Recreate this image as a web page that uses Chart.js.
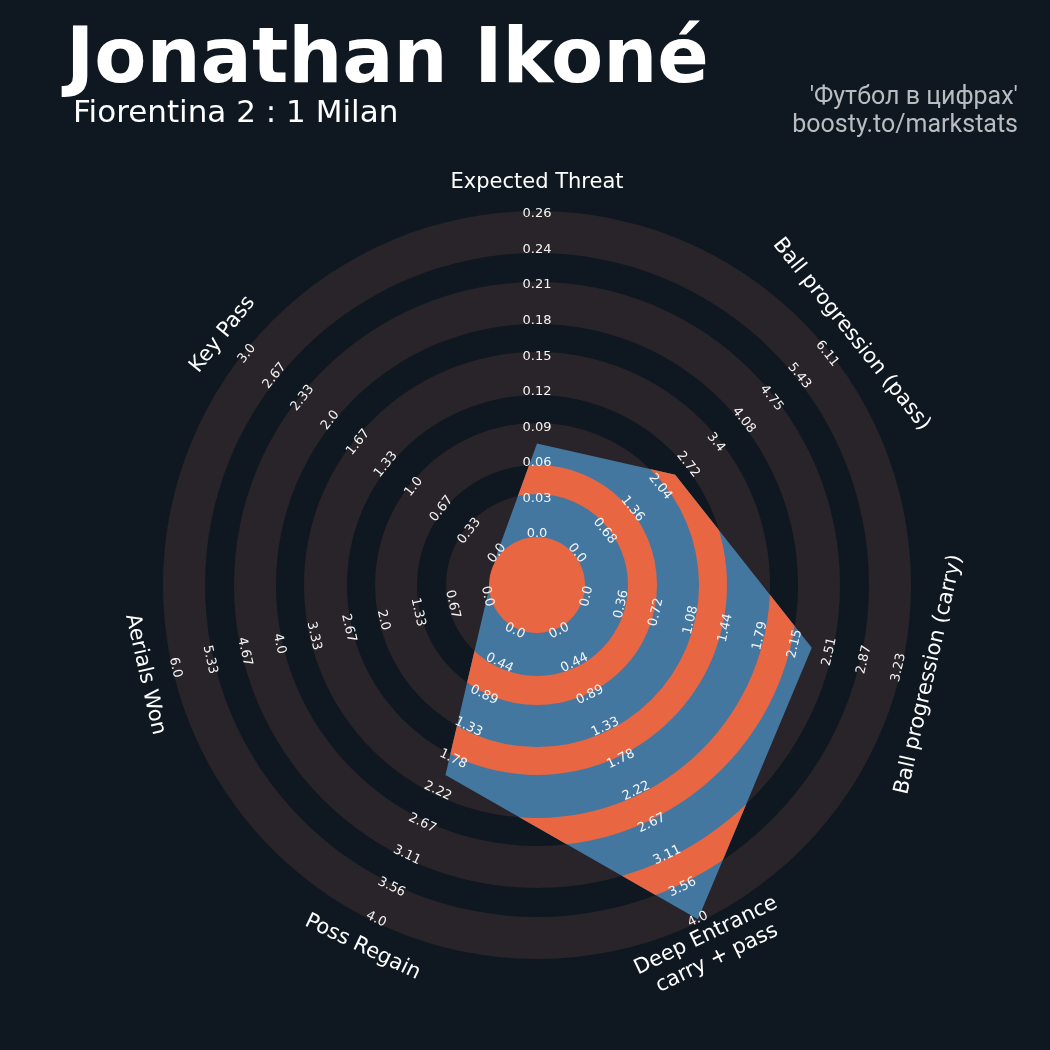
<!DOCTYPE html>
<html>
<head>
<meta charset="utf-8">
<script src="https://cdn.jsdelivr.net/npm/chart.js@4.4.1/dist/chart.umd.min.js"></script>
<style>
  html, body { margin: 0; padding: 0; background: #0f1820; }
  #wrap { position: relative; width: 1050px; height: 1050px; background: #0f1820; overflow: hidden; }
  #chartBox { position: absolute; left: 0; top: 0; width: 1050px; height: 1050px; }
  .title { position: absolute; left: 66px; top: 18px; font: bold 76px/1 "DejaVu Sans", sans-serif; color: #ffffff; white-space: nowrap; }
  .subtitle { position: absolute; left: 73px; top: 96px; font: 31px/1 "DejaVu Sans", sans-serif; color: #ffffff; white-space: nowrap; }
  .credits { position: absolute; right: 32px; top: 82px; font: 25px/28px Roboto, sans-serif; color: #b9bdc1; text-align: right; white-space: nowrap; }
</style>
</head>
<body>
<div id="wrap">
  <div id="chartBox"><canvas id="radar"></canvas></div>
  <div class="title">Jonathan Ikoné</div>
  <div class="subtitle">Fiorentina 2 : 1 Milan</div>
  <div class="credits">'Футбол в цифрах'<br>boosty.to/markstats</div>
</div>
<script>
// Jonathan Ikoné — radar, Fiorentina 2 : 1 Milan

// ── data ──────────────────────────────────────────────────
const params = [
  'Expected Threat',
  'Ball progression (pass)',
  'Ball progression (carry)',
  ['Deep Entrance', 'carry + pass'],
  'Poss Regain',
  'Aerials Won',
  'Key Pass'
];
const values   = [0.075, 2.4, 2.33, 4.0, 2.0, 0, 0];
const minRange = [0, 0, 0, 0, 0, 0, 0];
const maxRange = [0.265, 6.11, 3.23, 4.0, 4.0, 6.0, 3.0];

const rangeLabels = [
  ['0.0', '0.03', '0.06', '0.09', '0.12', '0.15', '0.18', '0.21', '0.24', '0.26'],
  ['0.0', '0.68', '1.36', '2.04', '2.72', '3.4', '4.08', '4.75', '5.43', '6.11'],
  ['0.0', '0.36', '0.72', '1.08', '1.44', '1.79', '2.15', '2.51', '2.87', '3.23'],
  ['0.0', '0.44', '0.89', '1.33', '1.78', '2.22', '2.67', '3.11', '3.56', '4.0'],
  ['0.0', '0.44', '0.89', '1.33', '1.78', '2.22', '2.67', '3.11', '3.56', '4.0'],
  ['0.0', '0.67', '1.33', '2.0', '2.67', '3.33', '4.0', '4.67', '5.33', '6.0'],
  ['0.0', '0.33', '0.67', '1.0', '1.33', '1.67', '2.0', '2.33', '2.67', '3.0']
];

// ── look ──────────────────────────────────────────────────
const RING_GREY = '#28242a';
const BLUE = '#4477a0';
const ORANGE = '#e86642';
// radial scale in "share of range" units: 0 = min, 1 = max, below 0 is the centre circle
const R_MIN = -0.159375, R_MAX = 1.009375;
const CENTER_R = -0.0094;
const GREY_BANDS   = [[CENTER_R, 0.125], [0.2156, 0.3469], [0.4344, 0.5688], [0.6563, 0.7875], [0.8781, R_MAX]];
const ORANGE_BANDS = [[0.125, 0.2156], [0.3469, 0.4344], [0.5688, 0.6563], [0.7875, 0.8781]];
const AXIS_LABEL_R = 402; // px from centre

const share = values.map((v, i) => (v - minRange[i]) / (maxRange[i] - minRange[i]));

function annulus(ctx, cx, cy, r1, r2) {
  ctx.beginPath();
  ctx.arc(cx, cy, r2, 0, Math.PI * 2);
  ctx.arc(cx, cy, Math.max(r1, 0), 0, Math.PI * 2, true);
  ctx.fill();
}

// keep text readable: flip anything pointing downwards
function textRot(i, n) {
  let deg = i * 360 / n;
  if (deg > 90 && deg < 270) deg -= 180;
  else if (deg >= 270) deg -= 360;
  return deg * Math.PI / 180;
}

const radarDecor = {
  id: 'radarDecor',
  beforeDatasetsDraw(chart) {
    const s = chart.scales.r, ctx = chart.ctx;
    ctx.save();
    ctx.fillStyle = RING_GREY;
    GREY_BANDS.forEach(([a, b]) =>
      annulus(ctx, s.xCenter, s.yCenter, s.getDistanceFromCenterForValue(a), s.getDistanceFromCenterForValue(b)));
    ctx.restore();
  },
  afterDatasetsDraw(chart) {
    const s = chart.scales.r, ctx = chart.ctx;
    const pts = chart.getDatasetMeta(0).data;
    const n = params.length;

    // orange bands inside the player polygon
    ctx.save();
    ctx.beginPath();
    pts.forEach((p, i) => i ? ctx.lineTo(p.x, p.y) : ctx.moveTo(p.x, p.y));
    ctx.closePath();
    ctx.clip();
    ctx.fillStyle = ORANGE;
    ORANGE_BANDS.forEach(([a, b]) =>
      annulus(ctx, s.xCenter, s.yCenter, s.getDistanceFromCenterForValue(a), s.getDistanceFromCenterForValue(b)));
    ctx.restore();

    // centre circle
    ctx.save();
    ctx.fillStyle = ORANGE;
    ctx.beginPath();
    ctx.arc(s.xCenter, s.yCenter, s.getDistanceFromCenterForValue(CENTER_R), 0, Math.PI * 2);
    ctx.fill();
    ctx.restore();

    // range labels
    ctx.save();
    ctx.fillStyle = '#f4f4f4';
    ctx.textAlign = 'center';
    ctx.textBaseline = 'middle';
    ctx.font = '13px "DejaVu Sans"';
    rangeLabels.forEach((labels, i) => {
      const rot = textRot(i, n);
      labels.forEach((txt, k) => {
        const pos = s.getPointPositionForValue(i, k / (labels.length - 1));
        ctx.save();
        ctx.translate(pos.x, pos.y);
        ctx.rotate(rot);
        ctx.fillText(txt, 0, 0);
        ctx.restore();
      });
    });
    ctx.restore();

    // axis names
    ctx.save();
    ctx.fillStyle = '#ffffff';
    ctx.textAlign = 'center';
    ctx.textBaseline = 'middle';
    ctx.font = '21px "DejaVu Sans"';
    params.forEach((name, i) => {
      const ang = s.getIndexAngle(i) - Math.PI / 2;
      const x = s.xCenter + Math.cos(ang) * AXIS_LABEL_R;
      const y = s.yCenter + Math.sin(ang) * AXIS_LABEL_R;
      const lines = Array.isArray(name) ? name : [name];
      ctx.save();
      ctx.translate(x, y);
      ctx.rotate(textRot(i, n));
      lines.forEach((ln, j) => ctx.fillText(ln, 0, (j - (lines.length - 1) / 2) * 25));
      ctx.restore();
    });
    ctx.restore();
  }
};

new Chart(document.getElementById('radar'), {
  type: 'radar',
  data: {
    labels: params,
    datasets: [{
      label: 'Jonathan Ikoné',
      data: share,
      backgroundColor: BLUE,
      borderWidth: 0,
      pointRadius: 0,
      pointHoverRadius: 0,
      fill: 'start'
    }]
  },
  options: {
    responsive: true,
    maintainAspectRatio: false,
    animation: false,
    layout: { padding: { left: 163, right: 139, top: 211, bottom: 91 } },
    plugins: { legend: { display: false }, tooltip: { enabled: false } },
    scales: {
      r: {
        min: R_MIN, max: R_MAX,
        grid: { display: false },
        angleLines: { display: false },
        pointLabels: { display: false },
        ticks: { display: false }
      }
    }
  },
  plugins: [radarDecor]
});
</script>
</body>
</html>
